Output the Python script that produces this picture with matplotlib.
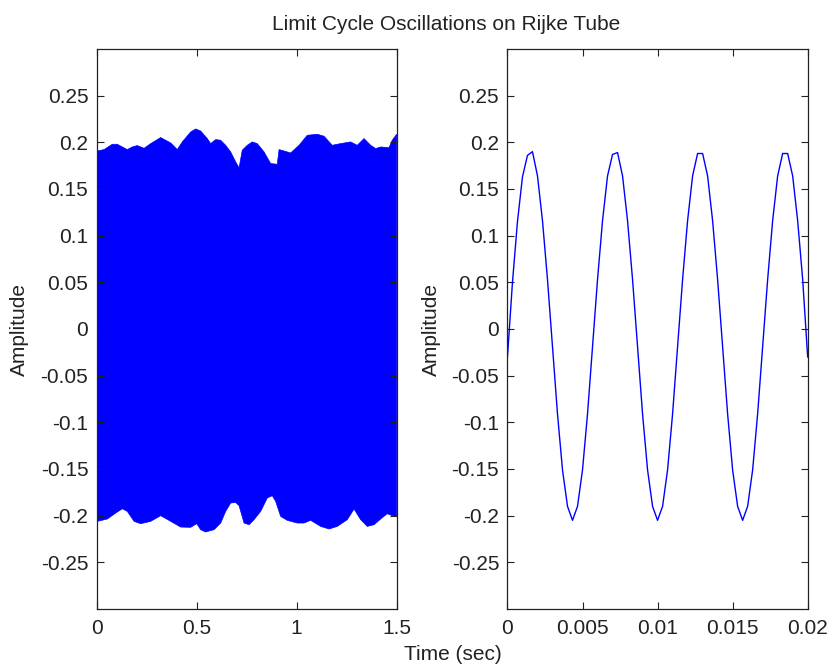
import numpy as np
from matplotlib import pyplot as plt
from matplotlib.ticker import FuncFormatter

plt.rcParams['font.family'] = ['Liberation Sans', 'DejaVu Sans']
plt.rcParams['font.size'] = 15

# left panel: envelope of the dense 1.5 s record (upper and lower edges)
t_upper = [0.003, 0.037, 0.078, 0.103, 0.128, 0.153, 0.178, 0.203, 0.237, 0.27,
           0.32, 0.37, 0.403, 0.428, 0.47, 0.495, 0.52, 0.553, 0.57, 0.595,
           0.62, 0.645, 0.67, 0.695, 0.712, 0.728, 0.753, 0.778, 0.803, 0.837,
           0.87, 0.903, 0.912, 0.937, 0.97, 1.012, 1.053, 1.103, 1.137, 1.178,
           1.22, 1.27, 1.303, 1.337, 1.37, 1.395, 1.42, 1.462, 1.478, 1.5]
amp_upper = [0.1907, 0.1922, 0.1979, 0.1979, 0.1950, 0.1922, 0.1950, 0.1965, 0.1936, 0.1986,
             0.2051, 0.1993, 0.1922, 0.2004, 0.2111, 0.2143, 0.2121, 0.2040, 0.1986, 0.2029,
             0.2022, 0.1968, 0.1897, 0.1790, 0.1726, 0.1915, 0.1968, 0.2004, 0.1986, 0.1897,
             0.1772, 0.1765, 0.1922, 0.1907, 0.1886, 0.1968, 0.2075, 0.2086, 0.2065, 0.1968,
             0.1986, 0.2004, 0.1968, 0.2040, 0.1968, 0.1933, 0.1950, 0.1943, 0.2022, 0.2086]

t_lower = [0.003, 0.053, 0.095, 0.128, 0.153, 0.187, 0.22, 0.27, 0.32, 0.37,
           0.42, 0.47, 0.5, 0.52, 0.545, 0.587, 0.62, 0.645, 0.67, 0.695,
           0.712, 0.737, 0.762, 0.787, 0.82, 0.853, 0.878, 0.895, 0.92, 0.953,
           1.003, 1.037, 1.07, 1.12, 1.162, 1.203, 1.253, 1.287, 1.32, 1.353,
           1.387, 1.42, 1.453, 1.487, 1.5]
amp_lower = [-0.2061, -0.2036, -0.1972, -0.1926, -0.1954, -0.2061, -0.2086, -0.2061, -0.2000, -0.2061,
             -0.2122, -0.2125, -0.2086, -0.2150, -0.2175, -0.2150, -0.2079, -0.1954, -0.1865, -0.1858,
             -0.1893, -0.2079, -0.2097, -0.2043, -0.1954, -0.1811, -0.1786, -0.1847, -0.2008, -0.2050,
             -0.2079, -0.2079, -0.2050, -0.2115, -0.2143, -0.2115, -0.2043, -0.1929, -0.2043, -0.2115,
             -0.2097, -0.2036, -0.1979, -0.2008, -0.2008]

# right panel: first 0.02 s, sampled at 3 kHz
fs = 3000.0
amp_zoom = [-0.030, 0.050, 0.115, 0.163, 0.186, 0.190, 0.164, 0.116, 0.053, -0.019,
            -0.091, -0.151, -0.190, -0.205, -0.190, -0.151, -0.091, -0.019, 0.053, 0.116,
            0.164, 0.187, 0.189, 0.164, 0.116, 0.053, -0.019, -0.091, -0.151, -0.190,
            -0.205, -0.190, -0.151, -0.091, -0.019, 0.053, 0.116, 0.164, 0.188, 0.188,
            0.164, 0.116, 0.053, -0.019, -0.091, -0.151, -0.190, -0.205, -0.190, -0.151,
            -0.091, -0.019, 0.053, 0.116, 0.164, 0.188, 0.188, 0.164, 0.116, 0.053,
            -0.030]
t_zoom = np.arange(len(amp_zoom)) / fs

yticks = [-0.25, -0.2, -0.15, -0.1, -0.05, 0, 0.05, 0.1, 0.15, 0.2, 0.25]
left_xticks = [0, 0.5, 1, 1.5]
right_xticks = [0, 0.005, 0.01, 0.015, 0.02]

fig = plt.figure(figsize=(8.3, 6.69), dpi=100)
ax1 = fig.add_axes([0.1165, 0.0897, 0.3614, 0.8371])
ax2 = fig.add_axes([0.6114, 0.0897, 0.3617, 0.8371])

xs = np.concatenate([t_upper, t_lower[::-1]])
ys = np.concatenate([amp_upper, amp_lower[::-1]])
ax1.fill(xs, ys, color=(0, 0, 1), lw=0.5)
ax1.set_xlim(0, 1.5)
ax1.set_xticks(left_xticks)

ax2.plot(t_zoom, amp_zoom, color=(0, 0, 1), lw=1.0)
ax2.set_xlim(0, 0.02)
ax2.set_xticks(right_xticks)

fmt = FuncFormatter(lambda v, p: '%g' % round(v, 6))
for ax in (ax1, ax2):
    ax.set_ylim(-0.3, 0.3)
    ax.set_yticks(yticks)
    ax.xaxis.set_major_formatter(fmt)
    ax.yaxis.set_major_formatter(fmt)
    ax.tick_params(direction='in', length=5, width=0.8, top=True, right=True,
                   colors='#222222', labelsize=15)
    ax.tick_params(axis='y', pad=6)
    ax.tick_params(axis='x', pad=7)
    for s in ax.spines.values():
        s.set_linewidth(0.9)
        s.set_color('#222222')

fig.text(0.024, 0.508, 'Amplitude', rotation=90, ha='center', va='center', color='#222222')
fig.text(0.520, 0.508, 'Amplitude', rotation=90, ha='center', va='center', color='#222222')
fig.text(0.546, 0.021, 'Time (sec)', ha='center', va='center', color='#222222')
fig.text(0.538, 0.955, 'Limit Cycle Oscillations on Rijke Tube', ha='center',
         va='baseline', color='#222222')

plt.savefig('out.png', dpi=100)
